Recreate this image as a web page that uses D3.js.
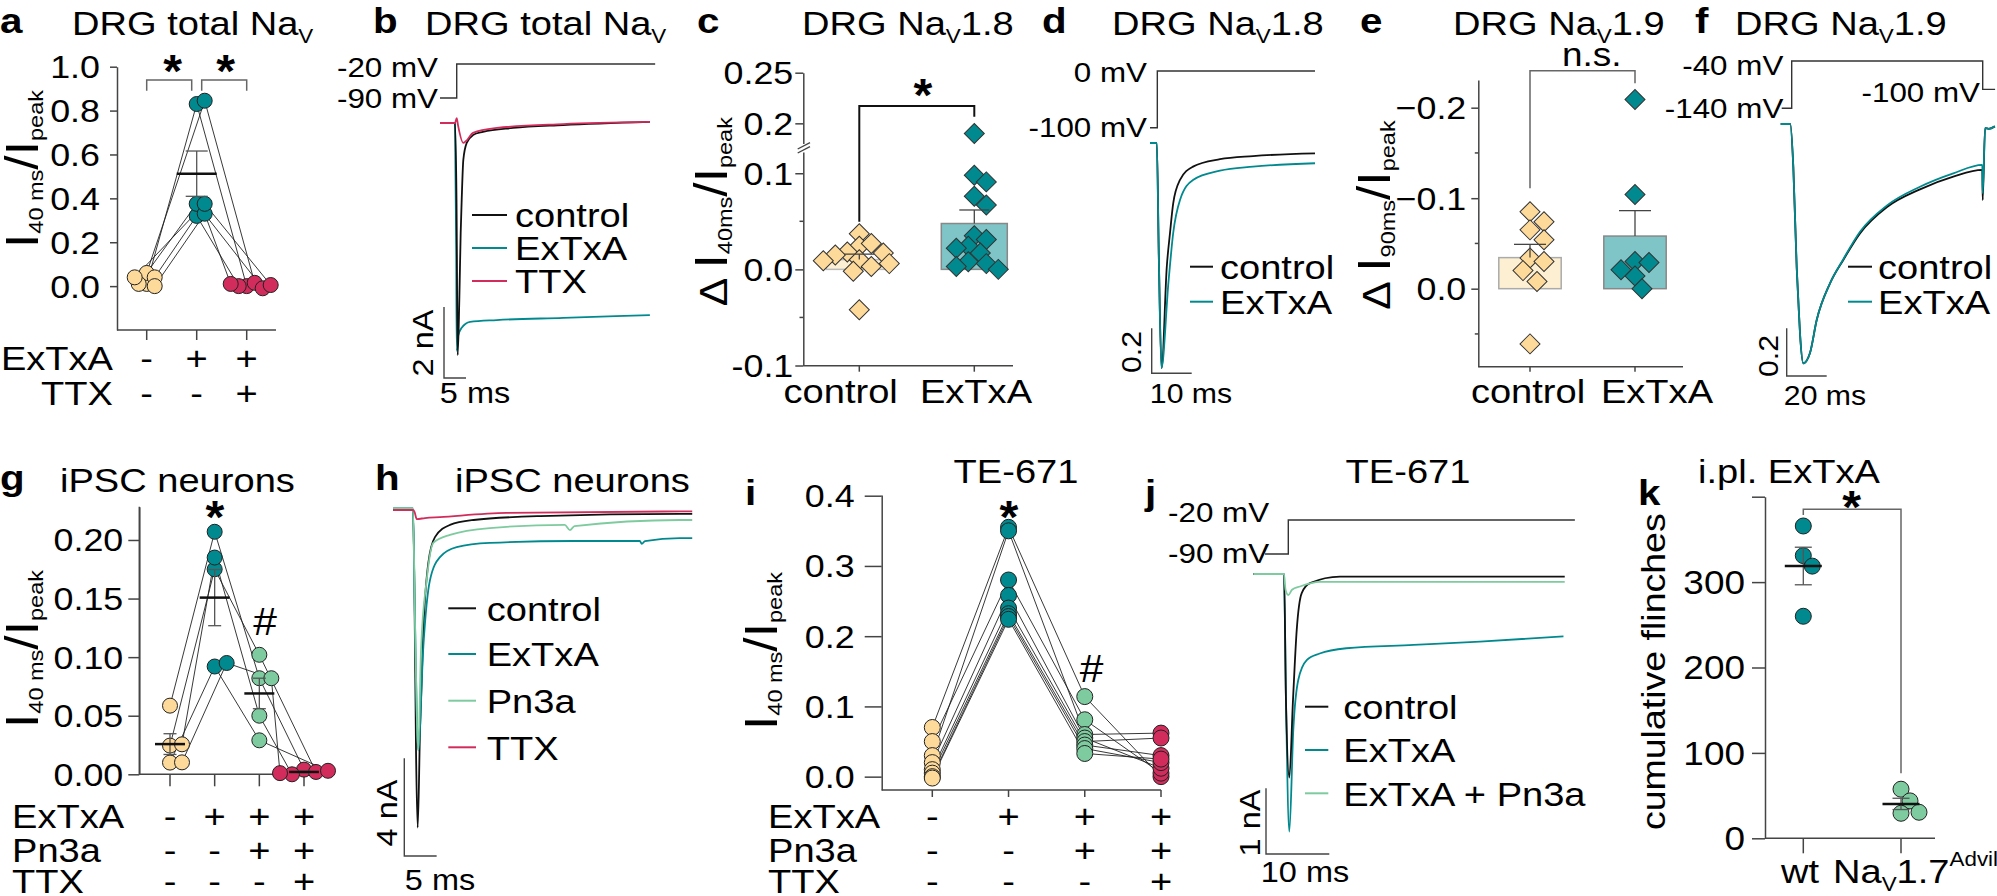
<!DOCTYPE html>
<html><head><meta charset="utf-8">
<script src="https://cdn.jsdelivr.net/npm/d3@7"></script>
<style>body{margin:0;background:#fff}svg{display:block}</style>
</head><body>
<svg id="fig" width="1997" height="896"></svg>
<script>
// ---------------- DATA ----------------
// a: DRG total NaV (I40ms/Ipeak)
const aGroups = ["ctrl", "ExTxA", "TTX"];
const aCtrl  = [0.01, 0.06, 0.04, 0.01, 0.00, 0.04];
const aExTxA = [0.83, 0.845, 0.32, 0.375, 0.33, 0.375];
const aTTX   = [0.00, 0.015, 0.00, -0.01, 0.01, 0.005];
const aRowExTxA = ["-", "+", "+"];
const aRowTTX   = ["-", "-", "+"];
const aTicks = [0, 0.2, 0.4, 0.6, 0.8, 1.0];

// b: DRG total NaV traces [ms, nA]
const bControl = [[0,0],[3.41,0],[3.75,-2.17],[4.02,-6.54],[4.39,-4.99],[4.70,-3.10],[4.93,-2.17],[5.30,-1.04],[6.07,-0.56],[7.5,-0.34],[9.77,-0.25],[16.6,-0.14],[28.0,-0.06],[47.7,0.03]];
const bExTxA   = [[0,0],[3.41,0],[3.68,-3.58],[3.8,-6.42],[4.09,-6.0],[4.93,-5.77],[6.82,-5.6],[12.9,-5.55],[28.0,-5.49],[47.7,-5.41]];
const bTTX     = [[0,0],[3.41,0],[3.8,0.14],[4.09,-0.06],[5.30,-0.56],[6.14,-0.48],[7.5,-0.28],[12.95,-0.14],[28.0,-0.03],[47.7,0.03]];
const bProtocol = [[0,-90],[3.8,-90],[3.8,-20],[48.9,-20]];
const bLegend = ["control", "ExTxA", "TTX"];

// c: DRG NaV1.8 (delta I40ms/Ipeak)
const cGroups = ["control", "ExTxA"];
const cCtrl  = [0.037, 0.024, 0.027, 0.018, 0.010, 0.017, 0.015, 0.003, -0.002, 0.006, 0.009, -0.042];
const cExTxA = [0.19, 0.098, 0.091, 0.076, 0.067, 0.035, 0.031, 0.024, 0.022, 0.017, 0.008, 0.006, 0.003, 0.0];
const cTicksHi = [0.25, 0.2];
const cTicksLo = [0.1, 0.0, -0.1];
const cMinor = [0.05, -0.05];

// d: DRG NaV1.8 normalized traces [ms, I/Ipeak]
const dControl = [[0,0],[1.7,0],[2.2,-0.5],[2.9,-1.0],[4.2,-0.549],[5.0,-0.4],[5.8,-0.268],[7.5,-0.164],[10.75,-0.105],[17.5,-0.072],[25.75,-0.058],[41.25,-0.046]];
const dExTxA   = [[0,0],[1.7,0],[2.2,-0.5],[2.85,-1.0],[4.6,-0.622],[5.8,-0.4],[7.5,-0.253],[10.75,-0.164],[17.5,-0.123],[25.75,-0.105],[41.25,-0.09]];
const dProtocol = [[0,-100],[1.83,-100],[1.83,0],[41.25,0]];
const dLegend = ["control", "ExTxA"];

// e: DRG NaV1.9 (delta I90ms/Ipeak)
const eGroups = ["control", "ExTxA"];
const eCtrl  = [-0.085, -0.074, -0.065, -0.054, -0.034, -0.030, -0.020, -0.008, 0.061];
const eExTxA = [-0.209, -0.104, -0.030, -0.029, -0.014, -0.021, 0.0];
const eTicks = [-0.2, -0.1, 0.0];
const eTickLabels = ["\u22120.2", "\u22120.1", "0.0"];
const eMinor = [-0.15, -0.05, 0.05];

// f: DRG NaV1.9 normalized traces
const fControl = [[0,0],[4.8,0],[6.3,-0.178],[8.0,-0.6],[8.8,-0.735],[9.65,-0.875],[11.3,-1.0],[14.6,-0.958],[18,-0.819],[24.65,-0.666],[31.3,-0.568],[39.65,-0.457],[53,-0.348],[69.65,-0.273],[86.3,-0.22],[100.8,-0.192],[101.0,-0.318],[102.2,-0.017],[104,-0.02],[107.1,-0.01]];
const fExTxA   = [[0,0],[4.8,0],[6.3,-0.178],[8.0,-0.6],[8.8,-0.735],[9.65,-0.875],[11.3,-1.0],[14.6,-0.958],[18,-0.819],[24.65,-0.666],[31.3,-0.565],[39.65,-0.45],[53,-0.341],[69.65,-0.262],[86.3,-0.206],[100.8,-0.171],[101.0,-0.29],[102.2,-0.017],[104,-0.02],[107.1,-0.01]];
const fProtocol = [[0.5,-140],[5.5,-140],[5.5,-40],[101,-40],[101,-100],[107.2,-100]];
const fLegend = ["control", "ExTxA"];

// g: iPSC neurons
const gGroups = ["ctrl", "ExTxA", "Pn3a", "TTX"];
const gCtrl  = [0.0586, 0.0245, 0.0256, 0.010, 0.0102];
const gExTxA = [0.207, 0.175, 0.185, 0.092, 0.095];
const gPn3a  = [0.082, 0.102, 0.050, 0.029, 0.082];
const gTTX   = [0.004, 0.002, 0.0, 0.003, 0.001];
const gTicks = [0, 0.05, 0.10, 0.15, 0.20];
const gRowExTxA = ["-", "+", "+", "+"];
const gRowPn3a  = ["-", "-", "+", "+"];
const gRowTTX   = ["-", "-", "-", "+"];

// h: iPSC neuron traces [ms, nA]
const hControl = [[0,0],[3.04,0],[3.28,-3.69],[3.51,-9.84],[3.77,-13.0],[4.13,-9.0],[4.64,-4.92],[5.41,-2.17],[6.44,-1.11],[8.76,-0.61],[12.4,-0.41],[22.7,-0.25],[44.3,-0.16],[46.2,-0.16]];
const hExTxA   = [[0,0.08],[3.04,0.08],[3.35,-4.5],[3.86,-9.84],[4.64,-5.61],[5.67,-2.87],[7.21,-1.93],[9.8,-1.52],[14.9,-1.35],[27.8,-1.27],[38.1,-1.27],[38.4,-1.39],[38.9,-1.27],[44.3,-1.15],[46.2,-1.15]];
const hPn3a    = [[0,0.08],[3.04,0.08],[3.35,-4.5],[3.86,-9.84],[4.28,-5.74],[5.16,-2.87],[6.18,-1.35],[8.76,-1.02],[14.9,-0.74],[26.5,-0.61],[27.3,-0.82],[28.0,-0.66],[44.3,-0.41],[46.2,-0.41]];
const hTTX     = [[0,0],[3.04,0],[3.28,-0.08],[3.62,-0.37],[4.9,-0.33],[7.21,-0.29],[17.5,-0.12],[44.3,-0.06],[46.2,-0.06]];
const hLegend = ["control", "ExTxA", "Pn3a", "TTX"];

// i: TE-671
const iGroups = ["ctrl", "ExTxA", "Pn3a", "TTX"];
const iCtrl  = [0.07, 0.05, 0.03, 0.02, 0.01, 0.005, 0.0, -0.002];
const iExTxA = [0.355, 0.28, 0.35, 0.258, 0.24, 0.232, 0.228, 0.224];
const iPn3a  = [0.114, 0.081, 0.06, 0.055, 0.05, 0.045, 0.04, 0.033];
const iTTX   = [0.0, 0.005, 0.062, 0.012, 0.055, 0.03, 0.02, 0.025];
const iTicks = [0, 0.1, 0.2, 0.3, 0.4];

// j: TE-671 traces [ms, nA]
const jControl = [[0,0],[4.85,0],[5.16,-1.92],[5.69,-3.1],[6.27,-1.92],[6.86,-0.85],[7.65,-0.29],[8.96,-0.14],[13.7,-0.04],[49.2,-0.04]];
const jExTxA   = [[0,0],[4.85,0],[5.16,-1.92],[5.69,-3.92],[6.32,-2.37],[7.11,-1.61],[8.44,-1.31],[10.5,-1.21],[14.7,-1.13],[25.3,-1.08],[35.8,-1.03],[49.0,-0.95]];
const jPn3a    = [[0,0],[4.85,0],[5.09,-0.24],[5.53,-0.32],[6.11,-0.24],[7.38,-0.19],[10.5,-0.12],[49.2,-0.12]];
const jProtocol = [[1.85,-90],[5.53,-90],[5.53,-20],[50.8,-20]];
const jLegend = ["control", "ExTxA", "ExTxA + Pn3a"];

// k: cumulative flinches
const kGroups = ["wt", "KO"];
const kWt = [365.7, 331, 318.7, 260];
const kKO = [57.5, 43.8, 29.3, 30.5];
const kTicks = [0, 100, 200, 300, 400];

// ---------------- STYLE ----------------
const FONT = "'Liberation Sans', Arial, Helvetica, sans-serif";
const SX = 1.12;
const COL = { ctrl: "#FDD99A", ex: "#00898E", ttx: "#D22C5C", pn: "#7ECB9F", blk: "#111" };
const AX = "#444";

const svg = d3.select("#fig");

function txt(g, x, y, parts, o = {}) {
  const size = o.size || 34;
  const grp = g.append("g").attr("transform", `translate(${x},${y}) rotate(${o.rot || 0}) scale(${o.sx || SX},1)`);
  const t = grp.append("text").attr("font-size", size).attr("font-family", FONT)
    .attr("text-anchor", o.anchor || "start").attr("font-weight", o.weight || "normal")
    .attr("fill", o.fill || "#000");
  if (typeof parts === "string") { t.text(parts); return t; }
  let prev = 0;
  parts.forEach(p => {
    const d = p.d || 0;
    t.append("tspan").attr("font-size", p.s || size).attr("dy", d - prev).text(p.t);
    prev = d;
  });
  return t;
}
function line(g, pts, stroke = AX, w = 1.5) {
  return g.append("path").attr("d", d3.line()(pts)).attr("fill", "none").attr("stroke", stroke).attr("stroke-width", w);
}
function yAxis(g, scale, x, ticks, labels, o) {
  const ax = d3.axisLeft(scale).tickValues(ticks).tickFormat(() => "").tickSize(o.tick).tickSizeOuter(0);
  const a = g.append("g").attr("transform", `translate(${x},0)`).call(ax);
  a.select(".domain").attr("stroke", AX).attr("stroke-width", 1.5);
  a.selectAll(".tick line").attr("stroke", AX).attr("stroke-width", 1.5);
  ticks.forEach((v, i) => {
    if (labels[i] !== "") txt(g, x - o.tick - o.pad, scale(v) + 0.36 * o.size, labels[i], { size: o.size, anchor: "end" });
  });
}
function xAxis(g, scale, y, x0, x1, tick) {
  line(g, [[x0, y], [x1, y]]);
  scale.domain().forEach(c => line(g, [[scale(c), y], [scale(c), y + tick]]));
}
function dodge(vals, yS, cx, r, step, k) {
  const placed = [];
  return vals.map(v => {
    const y = yS(v);
    const cands = [0];
    for (let i = 1; i < 14; i++) cands.push(i * step, -i * step);
    let x = cx;
    for (const dx of cands) {
      const xx = cx + dx;
      if (placed.every(p => Math.hypot(p[0] - xx, p[1] - y) >= 2 * r * k)) { x = xx; break; }
    }
    placed.push([x, y]);
    return x;
  });
}
function paired(g, xS, yS, groups, series, colors, r, step, k, connect = true) {
  const xs = series.map((vals, i) => dodge(vals, yS, xS(groups[i]), r, step, k));
  if (connect) {
    const n = series[0].length;
    for (let j = 0; j < n; j++) {
      line(g, series.map((vals, i) => [xs[i][j], yS(vals[j])]), "#222", 0.9);
    }
  }
  series.forEach((vals, i) => vals.forEach((v, j) =>
    g.append("circle").attr("cx", xs[i][j]).attr("cy", yS(v)).attr("r", r)
      .attr("fill", colors[i]).attr("stroke", "#222").attr("stroke-width", 1)));
}
function meanSem(g, cx, vals, yS, mw, cw) {
  const m = d3.mean(vals), s = d3.deviation(vals) / Math.sqrt(vals.length);
  line(g, [[cx, yS(m - s)], [cx, yS(m + s)]], "#555", 1.3);
  line(g, [[cx - cw / 2, yS(m - s)], [cx + cw / 2, yS(m - s)]], "#555", 1.3);
  line(g, [[cx - cw / 2, yS(m + s)], [cx + cw / 2, yS(m + s)]], "#555", 1.3);
  line(g, [[cx - mw / 2, yS(m)], [cx + mw / 2, yS(m)]], "#111", 2.5);
}
function diamonds(g, vals, xs, yS, color, size) {
  vals.forEach((v, j) => g.append("path")
    .attr("d", d3.symbol().type(d3.symbolSquare).size(size)())
    .attr("transform", `translate(${xs[j]},${yS(v)}) rotate(45)`)
    .attr("fill", color).attr("stroke", "#333").attr("stroke-width", 1));
}
function barPanel(g, xS, yS, groups, series, colors, fills, strokes, barW, capW, r, step, k, size) {
  series.forEach((vals, i) => {
    const cx = xS(groups[i]), m = d3.mean(vals);
    g.append("rect").attr("x", cx - barW / 2).attr("width", barW)
      .attr("y", Math.min(yS(m), yS(0))).attr("height", Math.abs(yS(0) - yS(m)))
      .attr("fill", fills[i]).attr("stroke", strokes[i]).attr("stroke-width", 1.5);
  });
  series.forEach((vals, i) => {
    const xs = dodge(vals, yS, xS(groups[i]), r, step, k);
    diamonds(g, vals, xs, yS, colors[i], size);
  });
  series.forEach((vals, i) => {
    const cx = xS(groups[i]), m = d3.mean(vals), s = d3.deviation(vals) / Math.sqrt(vals.length);
    const e = m >= 0 ? m + s : m - s;
    line(g, [[cx, yS(m)], [cx, yS(e)]], "#444", 1.3);
    line(g, [[cx - capW / 2, yS(e)], [cx + capW / 2, yS(e)]], "#444", 1.3);
  });
}
function traces(g, xS, yS, series, colors, w = 1.8) {
  series.forEach((s, i) => g.append("path")
    .attr("d", d3.line().x(d => xS(d[0])).y(d => yS(d[1])).curve(d3.curveMonotoneX)(s))
    .attr("fill", "none").attr("stroke", colors[i]).attr("stroke-width", w).attr("stroke-linejoin", "round"));
}
function protocol(g, xS, vS, pts) {
  g.append("path").attr("d", d3.line().x(d => xS(d[0])).y(d => vS(d[1]))(pts))
    .attr("fill", "none").attr("stroke", "#333").attr("stroke-width", 1.4);
}
function legend(g, x0, x1, tx, ys, names, colors, size = 34) {
  names.forEach((n, i) => {
    line(g, [[x0, ys[i]], [x1, ys[i]]], colors[i], 2);
    txt(g, tx, ys[i] + 0.36 * size, n, { size });
  });
}
function scaleBar(g, xS, yS, x, y, tLen, iLen, tLabel, iLabel, o) {
  const w = xS(tLen) - xS(0), h = Math.abs(yS(iLen) - yS(0));
  line(g, [[x, y - h], [x, y], [x + w, y]], "#444", 1.4);
  txt(g, o.ix + 0.36 * o.size, o.iy, iLabel, { size: o.size, rot: -90, anchor: "middle" });
  txt(g, o.tx, o.ty, tLabel, { size: o.size, anchor: "middle" });
}
function rowSigns(g, xS, groups, signs, y, size = 34) {
  groups.forEach((c, i) => txt(g, xS(c), y, signs[i], { size, anchor: "middle" }));
}
function star(g, x, y, size = 46) { txt(g, x, y + 0.55 * size, "*", { size, anchor: "middle", weight: "bold", sx: 1.05 }); }
function title(g, lx, ly, letter, tx, parts, size = 34) {
  txt(g, lx, ly, letter, { size: 36, weight: "bold" });
  txt(g, tx, ly + 2, parts, { size });
}
const NaV = (pre, post) => [{ t: pre }, { t: "V", s: 20, d: 8 }, { t: post || "", d: 0 }];
const ratioLabel = (sub1) => [{ t: "I", s: 46 }, { t: sub1, s: 21, d: 5 }, { t: "/", s: 46, d: 0 }, { t: "I", s: 46 }, { t: "peak", s: 21, d: 5 }];

// ================= PANEL A =================
{
  const g = svg.append("g");
  const yS = d3.scaleLinear().domain([-0.2, 1.0]).range([330, 66.7]);
  const xS = d3.scalePoint().domain(aGroups).range([146.7, 246.7]);
  title(g, 0, 33, "a", 72, NaV("DRG total Na"));
  yAxis(g, yS, 117, aTicks, aTicks.map(d3.format(".1f")), { tick: 7, pad: 10, size: 32 });
  xAxis(g, xS, 330, 117, 276, 10);
  paired(g, xS, yS, aGroups, [aCtrl, aExTxA, aTTX], [COL.ctrl, COL.ex, COL.ttx], 7.5, 4, 0.5);
  meanSem(g, xS("ExTxA"), aExTxA, yS, 40, 22);
  line(g, [[146.7, 90.7], [146.7, 80], [191.7, 80], [191.7, 90.7]], "#666", 1.5);
  line(g, [[201.7, 90.7], [201.7, 80], [246.7, 80], [246.7, 90.7]], "#666", 1.5);
  star(g, 172.7, 62); star(g, 225.7, 62);
  txt(g, 38, 169, ratioLabel("40 ms"), { rot: -90, anchor: "middle" });
  txt(g, 113, 370, "ExTxA", { anchor: "end" });
  txt(g, 113, 405, "TTX", { anchor: "end" });
  rowSigns(g, xS, aGroups, aRowExTxA, 370);
  rowSigns(g, xS, aGroups, aRowTTX, 405);
}

// ================= PANEL B =================
{
  const g = svg.append("g");
  const xS = d3.scaleLinear().domain([0, 10]).range([440, 484]);
  const yS = d3.scaleLinear().domain([0, -2]).range([123, 194]);
  const vS = d3.scaleLinear().domain([-90, -20]).range([98, 64]);
  title(g, 373, 33, "b", 425, NaV("DRG total Na"));
  protocol(g, xS, vS, bProtocol);
  txt(g, 438, 77, "-20 mV", { size: 28, anchor: "end" });
  txt(g, 438, 108, "-90 mV", { size: 28, anchor: "end" });
  traces(g, xS, yS, [bExTxA, bControl, bTTX], [COL.ex, COL.blk, COL.ttx]);
  legend(g, 472, 507, 515, [215, 248, 281], bLegend, [COL.blk, COL.ex, COL.ttx]);
  scaleBar(g, xS, yS, 444, 378, 5, 2, "5 ms", "2 nA", { size: 29, ix: 423, iy: 343, tx: 475, ty: 403 });
}

// ================= PANEL C =================
{
  const g = svg.append("g");
  const yLo = d3.scaleLinear().domain([-0.1, 0.122]).range([365.5, 152.1]);
  const yHi = d3.scaleLinear().domain([0.18, 0.25]).range([143.6, 72.7]);
  const yS = v => (v > 0.15 ? yHi(v) : yLo(v));
  const xS = d3.scalePoint().domain(cGroups).range([859.3, 974.3]);
  title(g, 697, 33, "c", 802, NaV("DRG Na", "1.8"));
  yAxis(g, yHi, 803.3, cTicksHi, ["0.25", "0.2"], { tick: 8, pad: 2, size: 32 });
  yAxis(g, yLo, 803.3, cTicksLo, ["0.1", "0.0", "-0.1"], { tick: 8, pad: 2, size: 32 });
  cMinor.forEach(v => line(g, [[799.5, yLo(v)], [803.3, yLo(v)]]));
  line(g, [[797.7, 149], [810, 142.7]], "#444", 1.4);
  line(g, [[797.7, 153], [810, 146.7]], "#444", 1.4);
  xAxis(g, xS, 365.7, 803.3, 1013, 6);
  barPanel(g, xS, yS, cGroups, [cCtrl, cExTxA], [COL.ctrl, COL.ex], ["#FCEFD3", "#7FC4C7"], ["#BBB", "#888"], 66, 30, 10, 6, 0.6, 200);
  line(g, [[859.3, 221.7], [859.3, 106], [974.3, 106], [974.3, 116.7]], "#111", 2);
  star(g, 923, 86);
  txt(g, 840.7, 403, "control", { anchor: "middle" });
  txt(g, 976, 403, "ExTxA", { anchor: "middle" });
  txt(g, 727, 211.7, [{ t: "\u0394 ", s: 38 }].concat(ratioLabel("40ms")), { rot: -90, anchor: "middle" });
}

// ================= PANEL D =================
{
  const g = svg.append("g");
  const xS = d3.scaleLinear().domain([0, 10]).range([1150, 1190]);
  const yS = d3.scaleLinear().domain([0, -1]).range([143, 368]);
  const vS = d3.scaleLinear().domain([-100, 0]).range([127.7, 71]);
  title(g, 1042, 33, "d", 1112, NaV("DRG Na", "1.8"));
  protocol(g, xS, vS, dProtocol);
  txt(g, 1147, 82, "0 mV", { size: 28, anchor: "end" });
  txt(g, 1147, 137, "-100 mV", { size: 28, anchor: "end" });
  traces(g, xS, yS, [dControl, dExTxA], [COL.blk, COL.ex]);
  legend(g, 1190, 1213, 1220, [266.7, 301.7], dLegend, [COL.blk, COL.ex]);
  scaleBar(g, xS, yS, 1151.7, 373.3, 10, 0.2, "10 ms", "0.2", { size: 27, ix: 1131.7, iy: 352, tx: 1191, ty: 403 });
}

// ================= PANEL E =================
{
  const g = svg.append("g");
  const yS = d3.scaleLinear().domain([0.0862, -0.2306]).range([366.7, 80]);
  const xS = d3.scalePoint().domain(eGroups).range([1530, 1635]);
  title(g, 1360, 33, "e", 1453, NaV("DRG Na", "1.9"));
  yAxis(g, yS, 1478.3, eTicks, eTickLabels, { tick: 7, pad: 5, size: 32 });
  eMinor.forEach(v => line(g, [[1474.8, yS(v)], [1478.3, yS(v)]]));
  xAxis(g, xS, 366.7, 1478.3, 1683, 5);
  barPanel(g, xS, yS, eGroups, [eCtrl, eExTxA], [COL.ctrl, COL.ex], ["#FDEFD2", "#7FC5C8"], ["#AAA", "#888"], 62.4, 32, 10, 7, 0.65, 200);
  line(g, [[1530, 188.3], [1530, 70.7], [1635, 70.7], [1635, 83.3]], "#666", 1.5);
  txt(g, 1591.7, 66, "n.s.", { size: 33, anchor: "middle" });
  txt(g, 1528, 403, "control", { anchor: "middle" });
  txt(g, 1657, 403, "ExTxA", { anchor: "middle" });
  txt(g, 1390, 215, [{ t: "\u0394 ", s: 38 }].concat(ratioLabel("90ms")), { rot: -90, anchor: "middle" });
}

// ================= PANEL F =================
{
  const g = svg.append("g");
  const xS = d3.scaleLinear().domain([0, 20]).range([1780.7, 1820.7]);
  const yS = d3.scaleLinear().domain([0, -1]).range([124, 363.3]);
  const vS = d3.scaleLinear().domain([-140, -40]).range([108.3, 61]);
  title(g, 1695, 33, "f", 1735, NaV("DRG Na", "1.9"));
  protocol(g, xS, vS, fProtocol);
  txt(g, 1783.3, 75, "-40 mV", { size: 28, anchor: "end" });
  txt(g, 1783.3, 118.3, "-140 mV", { size: 28, anchor: "end" });
  txt(g, 1980, 101.7, "-100 mV", { size: 28, anchor: "end" });
  traces(g, xS, yS, [fControl, fExTxA], [COL.blk, COL.ex]);
  legend(g, 1848, 1872, 1878, [266.7, 301.7], fLegend, [COL.blk, COL.ex]);
  scaleBar(g, xS, yS, 1786.7, 376, 20, 0.2, "20 ms", "0.2", { size: 27, ix: 1768, iy: 356, tx: 1825, ty: 405 });
}

// ================= PANEL G =================
{
  const g = svg.append("g");
  const yS = d3.scaleLinear().domain([0, 0.2284]).range([774.3, 506.7]);
  const xS = d3.scalePoint().domain(gGroups).range([170, 304]);
  title(g, 0, 490, "g", 60, "iPSC neurons");
  yAxis(g, yS, 139.3, gTicks, gTicks.map(d3.format(".2f")), { tick: 11, pad: 5, size: 32 });
  line(g, [[139.3, 774.3], [139.3, 506.7]]);
  xAxis(g, xS, 774.3, 139.3, 335, 12);
  paired(g, xS, yS, gGroups, [gCtrl, gExTxA, gPn3a, gTTX], [COL.ctrl, COL.ex, COL.pn, COL.ttx], 7.5, 6, 0.55);
  [gCtrl, gExTxA, gPn3a, gTTX].forEach((vals, i) => meanSem(g, xS(gGroups[i]), vals, yS, 30, 13));
  star(g, 215, 508);
  txt(g, 265, 635, "#", { size: 38, anchor: "middle" });
  txt(g, 38, 649, ratioLabel("40 ms"), { rot: -90, anchor: "middle" });
  txt(g, 12, 828, "ExTxA"); txt(g, 12, 861.7, "Pn3a"); txt(g, 12, 893, "TTX");
  rowSigns(g, xS, gGroups, gRowExTxA, 828);
  rowSigns(g, xS, gGroups, gRowPn3a, 861.7);
  rowSigns(g, xS, gGroups, gRowTTX, 893);
}

// ================= PANEL H =================
{
  const g = svg.append("g");
  const xS = d3.scaleLinear().domain([0, 5]).range([393.3, 425.65]);
  const yS = d3.scaleLinear().domain([0, -4]).range([510, 607.7]);
  title(g, 375, 490, "h", 455, "iPSC neurons");
  traces(g, xS, yS, [hControl, hExTxA, hPn3a, hTTX], [COL.blk, COL.ex, COL.pn, COL.ttx]);
  legend(g, 448.3, 476, 486.7, [608.3, 654, 700.7, 747.3], hLegend, [COL.blk, COL.ex, COL.pn, COL.ttx]);
  scaleBar(g, xS, yS, 404.3, 856, 5, 4, "5 ms", "4 nA", { size: 29, ix: 386.7, iy: 813, tx: 440, ty: 890 });
}

// ================= PANEL I =================
{
  const g = svg.append("g");
  const yS = d3.scaleLinear().domain([-0.019, 0.401]).range([790, 495]);
  const xS = d3.scalePoint().domain(iGroups).range([932.3, 1161]);
  txt(g, 745, 505, "i", { size: 36, weight: "bold" });
  txt(g, 1016, 483.3, "TE-671", { size: 34, anchor: "middle" });
  yAxis(g, yS, 881.7, iTicks, iTicks.map(d3.format(".1f")), { tick: 17, pad: 10, size: 32 });
  xAxis(g, xS, 790, 881.7, 1161, 7);
  paired(g, xS, yS, iGroups, [iCtrl, iExTxA, iPn3a, iTTX], [COL.ctrl, COL.ex, COL.pn, COL.ttx], 8, 0, 0.5);
  star(g, 1009, 508);
  txt(g, 1091.7, 682, "#", { size: 38, anchor: "middle" });
  txt(g, 777, 651, ratioLabel("40 ms"), { rot: -90, anchor: "middle" });
  txt(g, 768, 828, "ExTxA"); txt(g, 768, 861.7, "Pn3a"); txt(g, 768, 893, "TTX");
  rowSigns(g, xS, iGroups, gRowExTxA, 828);
  rowSigns(g, xS, iGroups, gRowPn3a, 861.7);
  rowSigns(g, xS, iGroups, gRowTTX, 893);
}

// ================= PANEL J =================
{
  const g = svg.append("g");
  const xS = d3.scaleLinear().domain([0, 10]).range([1253.3, 1316.6]);
  const yS = d3.scaleLinear().domain([0, -1]).range([574, 639.7]);
  const vS = d3.scaleLinear().domain([-90, -20]).range([554, 520]);
  txt(g, 1145, 505, "j", { size: 36, weight: "bold" });
  txt(g, 1408, 483.3, "TE-671", { size: 34, anchor: "middle" });
  protocol(g, xS, vS, jProtocol);
  txt(g, 1168, 521.7, "-20 mV", { size: 28 });
  txt(g, 1168, 563.3, "-90 mV", { size: 28 });
  traces(g, xS, yS, [jExTxA, jControl, jPn3a], [COL.ex, COL.blk, COL.pn]);
  legend(g, 1305, 1328.3, 1343.3, [706.7, 750, 793.3], jLegend, [COL.blk, COL.ex, COL.pn]);
  scaleBar(g, xS, yS, 1266, 854, 10, 1, "10 ms", "1 nA", { size: 29, ix: 1250, iy: 823, tx: 1305, ty: 881.7 });
}

// ================= PANEL K =================
{
  const g = svg.append("g");
  const yS = d3.scaleLinear().domain([0, 400]).range([838.3, 496.7]);
  const xS = d3.scalePoint().domain(kGroups).range([1803.3, 1901]);
  txt(g, 1638, 505, "k", { size: 36, weight: "bold" });
  txt(g, 1698, 483.3, "i.pl. ExTxA", { size: 34 });
  yAxis(g, yS, 1765, kTicks, ["0", "100", "200", "300", ""], { tick: 13, pad: 7, size: 33 });
  xAxis(g, xS, 838.3, 1765, 1935, 15);
  paired(g, xS, yS, kGroups, [kWt, kKO], [COL.ex, COL.pn], 8, 9, 0.8, false);
  meanSem(g, xS("wt"), kWt, yS, 37, 17);
  meanSem(g, xS("KO"), kKO, yS, 37, 17);
  line(g, [[1803.3, 515], [1803.3, 509.3], [1901, 509.3], [1901, 773.3]], "#666", 1.5);
  star(g, 1851.7, 498);
  txt(g, 1665, 671.7, "cumulative flinches", { size: 33.5, rot: -90, anchor: "middle" });
  txt(g, 1800, 883, "wt", { anchor: "middle" });
  txt(g, 1833, 883, [{ t: "Na" }, { t: "V", s: 20, d: 8 }, { t: "1.7", d: 0 }, { t: "Advill", s: 20, d: -17 }]);
}
</script>
</body></html>
